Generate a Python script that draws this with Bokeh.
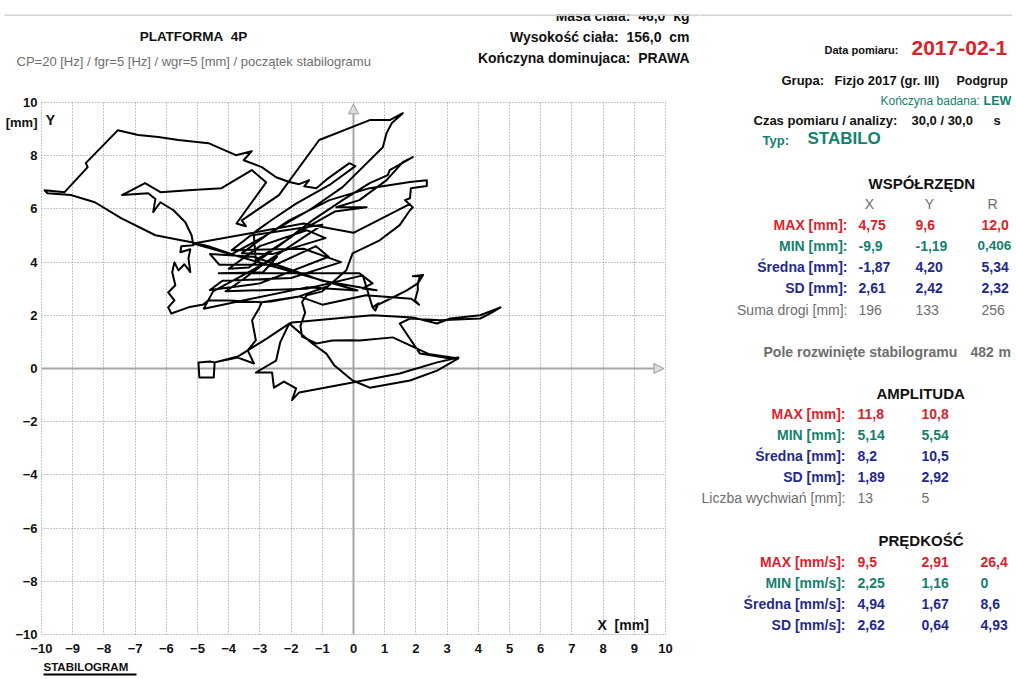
from bokeh.plotting import figure
from bokeh.layouts import row, column
from bokeh.models import Range1d, FixedTicker, Label, Arrow, NormalHead, BoxAnnotation
from bokeh.embed import file_html
from bokeh.resources import INLINE

# ---------------- data: centre-of-pressure trajectory (mm) ----------------
path_x = [1.83, 0.00, -1.60, -5.13, 0.13, -1.50, -4.80, -4.50, -2.45,
          -2.90, -4.32, 0.19, 0.61, 0.29, 0.74, -1.00, -3.20, -4.60, -4.30, -2.50, -1.20, -0.80,
          -3.00, -4.60, -4.20, -2.00, -0.40, -1.60, -3.90, -3.30, -1.00, -2.80, -3.60, -4.10, -1.50, 0.30,
          0.61, 0.80, 0.70, 0.61, 1.26, 1.71, 2.06, 2.13, 1.90, 2.23, 2.06, 2.06, 1.97, 2.10, 1.85,
          0.40, -1.00, -1.74, -2.94, -3.03, -3.25, -3.13, -3.39, -3.19, -3.71, -4.45, -4.48, -4.94, -4.97,
          -4.60, -4.45, -3.71, -2.77, -2.06, -1.97, -0.23, 0.61, 1.90, 2.68, 3.10, 4.06, 4.71, 4.39, 4.06,
          2.77, 1.81, 1.48, 2.13, 3.10, 3.36, 2.68, 1.48, -0.03, -1.74, -1.97, -1.84, -2.23, -2.55, -2.61,
          -3.13, -2.48, -2.35, -2.06, -1.32, -0.87, -0.61, -0.03, 0.52, 1.81, 2.68, 3.36, 2.40, 1.26, 0.19,
          -0.03, -0.68, -1.19, -1.65, -1.70, -1.55, -1.65, -1.50, -1.00, -0.23, -0.03, 0.84, 1.48, 1.81,
          1.90, 1.65, 1.81, 1.84, 2.35, 2.35, 1.81, 0.52, -0.77, -2.06, -2.80, -3.90, -4.65, -5.19, -6.35,
          -7.45, -8.29, -9.06, -9.81, -9.90, -9.26, -8.52, -8.58, -7.55, -6.90, -6.26, -5.61, -4.65, -3.77,
          -3.26, -3.52, -2.94, -2.48, -2.06, -1.74, -1.42, -1.58, -1.19, -0.87, -0.13, 0.06, -0.77, -1.84,
          -2.60, -3.20, -3.13, -2.16, -1.32, -0.35, 0.52, 1.10, 1.16, 1.90, 1.58, 1.06, 0.19, -0.55, 0.42,
          -0.60, -1.84, -3.35, -4.00, -3.00, -1.50, -0.90, -2.60, -3.58, -2.71, -1.42, -0.35, 0.94, 1.06,
          1.23, 1.58, 1.16, 0.52, -1.10, -2.39, -3.19, -3.58, -3.45, -3.75, -2.80, -3.26, -4.23, -5.29,
          -6.19, -6.68, -7.42, -6.58, -6.35, -6.42, -6.19, -5.77, -5.39, -5.19, -5.13, -5.52, -5.55, -5.23,
          -5.29, -5.23, -5.42, -5.61, -5.74, -5.81, -5.71, -5.94, -5.74, -5.94, -5.84, -5.29, -4.81, -4.65,
          -4.00, -2.97, -2.65, -1.74, -0.80]
path_y = [6.20, 5.10, 5.45, 4.70, 2.93, 3.05, 2.25, 2.90, 4.20,
          3.62, 3.58, 3.58, 3.20, 3.01, 2.94, 3.30, 4.20, 4.30, 3.90, 3.90, 4.60, 4.20,
          3.20, 2.95, 3.30, 3.40, 4.00, 4.50, 4.45, 5.00, 5.40, 4.00, 3.30, 2.90, 3.00, 3.50,
          2.30, 2.45, 2.18, 2.30, 2.67, 2.94, 3.20, 3.47, 3.47, 3.52, 3.20, 2.94, 2.56, 2.40, 2.62,
          2.75, 2.40, 2.71, 2.49, 2.26, 1.81, 1.06, 0.68, 0.19, 0.41, 0.23, -0.34, -0.34, 0.23,
          0.26, 0.23, 0.45, 1.13, 1.69, 1.73, 1.92, 2.00, 1.92, 1.69, 1.88, 2.00, 2.30, 2.07, 1.88,
          1.81, 1.88, 1.69, 0.56, 0.38, 0.41, 0.23, -0.19, -0.53, -0.90, -1.19, -0.75, -0.49, -0.72, -0.15,
          -0.15, 0.30, 0.98, 1.69, 0.94, 0.56, 0.11, -0.45, -0.72, -0.45, -0.08, 0.38, 0.55, 1.17, 1.05,
          1.06, 1.05, 0.94, 1.20, 1.60, 2.10, 2.50, 2.75, 2.90, 3.69, 4.33, 4.82, 5.39, 5.95,
          6.06, 6.33, 6.40, 6.78, 6.86, 7.08, 7.01, 6.78, 6.33, 5.57, 5.00, 4.30, 4.60, 4.75, 5.01,
          5.65, 6.25, 6.52, 6.59, 6.70, 6.63, 7.57, 7.72, 8.96, 8.78, 8.70, 8.59, 8.47, 8.02,
          8.17, 7.83, 7.57, 7.19, 7.01, 6.93, 7.08, 6.85, 6.78, 7.10, 7.72, 7.61, 6.90, 6.20,
          5.60, 5.10, 4.07, 4.82, 5.57, 6.33, 6.97, 7.27, 7.46, 7.95, 7.76, 7.08, 6.33, 6.06, 6.06,
          5.90, 5.08, 3.80, 3.75, 4.60, 5.20, 4.90, 4.30, 4.33, 5.08, 5.95, 6.82, 8.32, 8.85,
          9.23, 9.60, 9.34, 9.34, 8.59, 6.52, 5.88, 5.57, 5.35, 5.45, 7.00, 7.46, 6.78, 6.70,
          6.63, 6.97, 6.52, 6.59, 6.37, 5.88, 6.25, 5.95, 5.50, 5.01, 4.63, 4.60, 4.37, 4.48,
          4.14, 3.62, 3.92, 3.69, 3.99, 3.62, 3.13, 2.86, 2.56, 2.30, 2.07, 2.30, 2.41, 2.56,
          2.56, 2.49, 2.52, 2.71, 3.10]

x_ticks = list(range(-10, 11))
y_ticks = list(range(-10, 11, 2))
y_unit_pos = 9.25          # where the "[mm]" unit text of the Y axis sits

# ---------------- report texts / values ----------------
coord_rows = ["MAX [mm]:", "MIN [mm]:", "Średna [mm]:", "SD [mm]:", "Suma drogi [mm]:"]
coord_x = ["4,75", "-9,9", "-1,87", "2,61", "196"]
coord_y = ["9,6", "-1,19", "4,20", "2,42", "133"]
coord_r = ["12,0", "0,406", "5,34", "2,32", "256"]

amp_rows = ["MAX [mm]:", "MIN [mm]:", "Średna [mm]:", "SD [mm]:", "Liczba wychwiań [mm]:"]
amp_x = ["11,8", "5,14", "8,2", "1,89", "13"]
amp_y = ["10,8", "5,54", "10,5", "2,92", "5"]

vel_rows = ["MAX [mm/s]:", "MIN [mm/s]:", "Średna [mm/s]:", "SD [mm/s]:"]
vel_x = ["9,5", "2,25", "4,94", "2,62"]
vel_y = ["2,91", "1,16", "1,67", "0,64"]
vel_r = ["26,4", "0", "8,6", "4,93"]

RED = "#d9232b"
TEAL = "#14806f"
NAVY = "#1f2a8c"
GRAY = "#6e6e6e"
BLACK = "#111111"
row_colors = [RED, TEAL, NAVY, NAVY, GRAY]
FONT = "Liberation Sans"
SP2 = "\u00a0\u00a0"

LEFT_W, RIGHT_W = 700, 312
HEAD_H, MAIN_H, FOOT_H = 92, 568, 17


def no_align(f):
    if "frame_align" in f.properties():
        f.frame_align = False
    return f


def panel(w, h):
    f = figure(width=w, height=h, x_range=Range1d(0, w), y_range=Range1d(h, 0), title=None,
               x_axis_type=None, y_axis_type=None, output_backend="svg", toolbar_location=None,
               min_border=0)
    f.outline_line_color = None
    f.background_fill_color = "white"
    f.border_fill_color = "white"
    return no_align(f)


def put(fig, text, x, y, size=14, color=BLACK, bold=True, align="left"):
    fig.add_layout(Label(x=x, y=y, text=text, text_font=FONT, text_font_size=f"{size}px",
                         text_color=color, text_font_style="bold" if bold else "normal",
                         text_align=align, text_baseline="middle"))


def box(fig, left, right, top, bottom, color):
    fig.add_layout(BoxAnnotation(left=left, right=right, top=top, bottom=bottom,
                                 fill_color=color, fill_alpha=1, line_color=None))


# ---------------- header (left) ----------------
head = panel(LEFT_W, HEAD_H)
put(head, "PLATFORMA" + SP2 + "4P", 193, 36, 13.5, align="center")
put(head, "CP=20 [Hz] / fgr=5 [Hz] / wgr=5 [mm] / początek stabilogramu", 16, 61, 13, GRAY, False)
put(head, "Masa ciała:" + SP2 + "46,0" + SP2 + "kg", 689, 15, 14, align="right")
put(head, "Wysokość ciała:" + SP2 + "156,0" + SP2 + "cm", 689, 36, 14, align="right")
put(head, "Kończyna dominujaca:" + SP2 + "PRAWA", 689, 57, 14, align="right")
box(head, 0, LEFT_W, 0, 14, "white")
box(head, 4, LEFT_W, 14, 15.5, "#d2d2d2")

# ---------------- stabilogram ----------------
p = figure(width=LEFT_W, height=MAIN_H, x_range=Range1d(-10, 10), y_range=Range1d(-10, 10),
           title=None, output_backend="svg", toolbar_location=None,
           min_border_left=41, min_border_right=35, min_border_top=10, min_border_bottom=26)
no_align(p)
p.background_fill_color = "white"
p.border_fill_color = "white"
p.outline_line_color = "#8c8c8c"
p.outline_line_dash = "1 2"
p.outline_line_width = 1

p.xaxis.ticker = FixedTicker(ticks=x_ticks)
p.yaxis.ticker = FixedTicker(ticks=y_ticks + [y_unit_pos])
p.yaxis.major_label_overrides = {y_unit_pos: "[mm]"}
p.ygrid.ticker = FixedTicker(ticks=y_ticks)
for ax in (p.xaxis, p.yaxis):
    ax.axis_line_color = None
    ax.major_tick_line_color = None
    ax.minor_tick_line_color = None
    ax.major_tick_out = 0
    ax.major_tick_in = 0
    ax.major_label_text_font = FONT
    ax.major_label_text_font_style = "bold"
    ax.major_label_text_font_size = "13px"
    ax.major_label_text_color = BLACK
p.xaxis.major_label_standoff = 9
p.yaxis.major_label_standoff = 4

p.grid.grid_line_color = "#8c8c8c"
p.grid.grid_line_dash = "1 2"
p.grid.grid_line_width = 1

head_kw = dict(size=10, fill_color="#dcdcdc", line_color="#9a9a9a", line_width=1)
p.add_layout(Arrow(end=NormalHead(**head_kw), x_start=0, y_start=-10, x_end=0, y_end=9.95,
                   line_color="#a6a6a6", line_width=2, level="underlay"))
p.add_layout(Arrow(end=NormalHead(**head_kw), x_start=-10, y_start=0, x_end=9.95, y_end=0,
                   line_color="#a6a6a6", line_width=2, level="underlay"))

p.line(path_x, path_y, line_color="black", line_width=2, line_join="round")


def X(px):      # page pixel -> plot x
    return (px - 353) / 31.2


def Y(py):      # page pixel -> plot y
    return (368 - py) / 26.6


put(p, "Y", X(50), Y(119), 14, align="center")
put(p, "X" + SP2 + "[mm]", X(597), Y(624), 14)

# ---------------- footer ----------------
foot = panel(LEFT_W, FOOT_H)
put(foot, "STABILOGRAM", 43, 6, 11.5)
box(foot, 43, 136, 13, 15, "black")

# ---------------- right report panel ----------------
OX = LEFT_W
rp = panel(RIGHT_W, HEAD_H + MAIN_H + FOOT_H)
box(rp, 0, RIGHT_W, 14, 15.5, "#d2d2d2")


def rput(text, px, py, size=14, color=BLACK, bold=True, align="left"):
    put(rp, text, px - OX, py, size, color, bold, align)


rput("Data pomiaru:", 898, 49, 11, align="right")
rput("2017-02-1", 911, 47, 21, RED)
rput("Grupa:", 781, 80, 13)
rput("Fizjo 2017 (gr. III)", 834, 80, 13)
rput("Podgrup", 956, 80, 12.5)
rput("Kończyna badana:", 880, 100, 12, TEAL, False)
rput("LEW", 983, 100, 12.5, TEAL)
rput("Czas pomiaru / analizy:", 753, 120, 13)
rput("30,0 / 30,0", 911, 120, 13)
rput("s", 993, 120, 13)
rput("Typ:", 762, 140, 13, TEAL)
rput("STABILO", 807, 138, 17, TEAL)

rput("WSPÓŁRZĘDN", 868, 183, 15)
rput("X", 869, 203, 14, GRAY, False, "center")
rput("Y", 929, 203, 14, GRAY, False, "center")
rput("R", 992, 203, 14, GRAY, False, "center")
for i, lab in enumerate(coord_rows):
    yy = 224 + i * 21.3
    c = row_colors[i]
    rput(lab, 847, yy, 14, c, i != 4, "right")
    rput(coord_x[i], 858, yy, 14, c, i != 4)
    rput(coord_y[i], 915, yy, 14, c, i != 4)
    if len(coord_r[i]) > 4:
        rput(coord_r[i], 977, yy, 13.5, c, i != 4)
    else:
        rput(coord_r[i], 981, yy, 14, c, i != 4)

rput("Pole rozwinięte stabilogramu", 763, 351, 14, GRAY)
rput("482", 970, 351, 14, GRAY)
rput("m", 998, 351, 14, GRAY)

rput("AMPLITUDA", 876, 393, 15)
for i, lab in enumerate(amp_rows):
    yy = 413 + i * 21.2
    c = row_colors[i]
    rput(lab, 845, yy, 14, c, i != 4, "right")
    rput(amp_x[i], 857, yy, 14, c, i != 4)
    rput(amp_y[i], 921, yy, 14, c, i != 4)

rput("PRĘDKOŚĆ", 878, 540, 15)
for i, lab in enumerate(vel_rows):
    yy = 561 + i * 21.2
    c = row_colors[i]
    rput(lab, 845, yy, 14, c, True, "right")
    rput(vel_x[i], 857, yy, 14, c)
    rput(vel_y[i], 921, yy, 14, c)
    rput(vel_r[i], 980, yy, 14, c)

layout = row(column(head, p, foot), rp)
open("out.html", "w").write(file_html(layout, INLINE))
